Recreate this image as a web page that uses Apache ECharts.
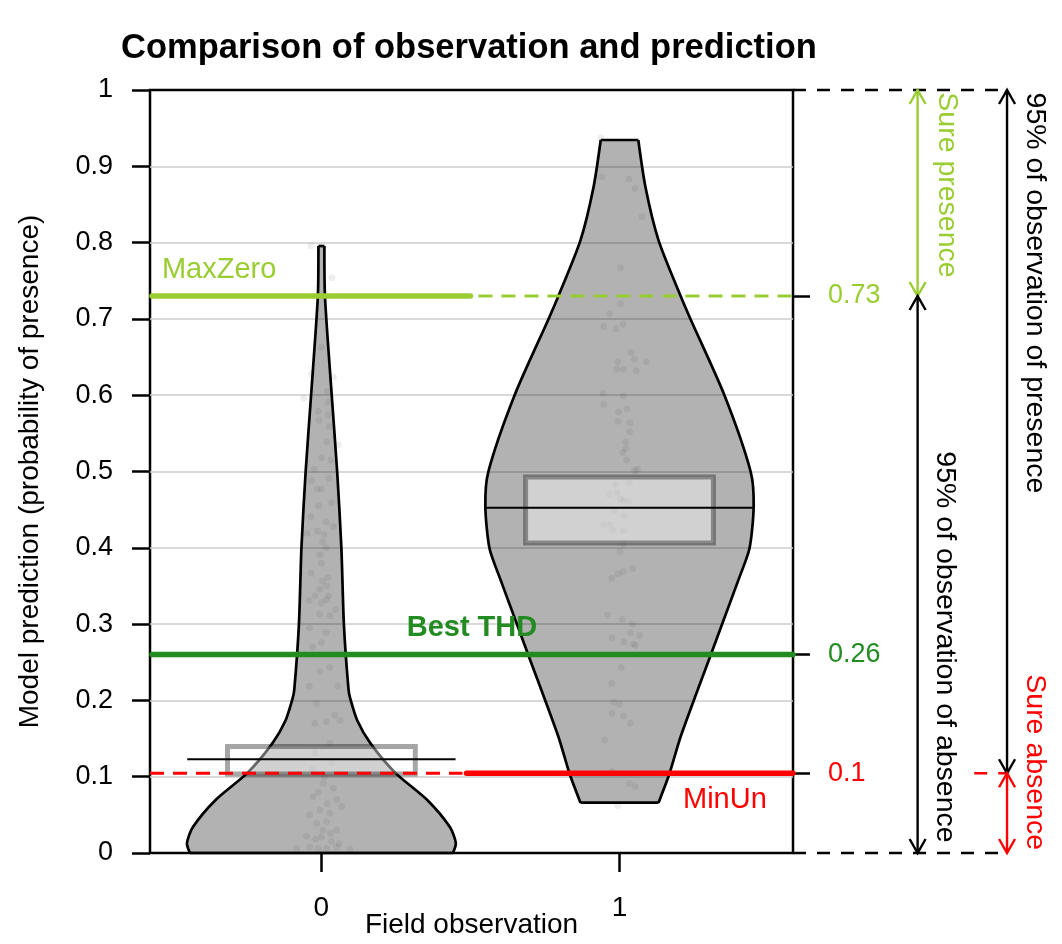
<!DOCTYPE html>
<html>
<head>
<meta charset="utf-8">
<script src="https://cdn.jsdelivr.net/npm/echarts@6/dist/echarts.min.js"></script>
<style>
html, body { margin: 0; padding: 0; background: #fff; }
#chart { width: 1062px; height: 944px; }
</style>
</head>
<body>
<div id="chart"></div>
<script>
// groups on the x axis (field observation)
const groups = [0, 1]

// violin outlines: [probability, half width in x units]
const violin0 = [
    [0, 0.441], [0.013, 0.451], [0.034, 0.431], [0.0695, 0.355], [0.105, 0.248],
    [0.144, 0.164], [0.174, 0.120], [0.202, 0.097], [0.214, 0.091], [0.299, 0.0755],
    [0.400, 0.067], [0.499, 0.053], [0.598, 0.035], [0.729, 0.012], [0.7955, 0.010]
]
const violin1 = [
    [0.066, 0.131], [0.1045, 0.168], [0.1524, 0.205], [0.2586, 0.305], [0.358, 0.399],
    [0.399, 0.436], [0.4539, 0.450], [0.4997, 0.440], [0.5999, 0.352], [0.6999, 0.238],
    [0.730, 0.205], [0.803, 0.131], [0.873, 0.087], [0.9345, 0.063]
]

// box (q1, q3) and median per group
const boxLow = [0.1035, 0.4063]
const boxHigh = [0.1396, 0.4928]
const medians = [0.1228, 0.4526]

// thresholds
const thresholdNames = ['MaxZero', 'Best THD', 'MinUn']
const thresholdValues = [0.73, 0.26, 0.1045]
const thresholdTicks = ['0.73', '0.26', '0.1']
const thresholdColors = ['#9ACD32', '#228B22', '#FF0000']

// jittered observations: [offset from group centre, probability]
const jitter0 = [
    [-0.035, 0.796], [0.035, 0.754], [0, 0.663], [-0.033, 0.628], [0.04, 0.624],
    [-0.059, 0.596], [0.02, 0.605], [0.023, 0.591], [-0.011, 0.579], [-0.008, 0.567],
    [0.023, 0.574], [0.026, 0.559], [0.056, 0.535], [0.018, 0.539], [0, 0.518],
    [0.032, 0.515], [-0.024, 0.503], [-0.033, 0.488], [0.025, 0.491], [-0.014, 0.477],
    [0, 0.477], [0.034, 0.459], [-0.009, 0.455], [-0.035, 0.441], [0.016, 0.434],
    [-0.013, 0.422], [-0.048, 0.419], [0.04, 0.428], [0.009, 0.417], [0.004, 0.408],
    [0.015, 0.400], [-0.005, 0.391], [0, 0.380], [-0.035, 0.367], [0.004, 0.356],
    [0.022, 0.361], [0.018, 0.350], [-0.005, 0.346], [-0.021, 0.337], [0.024, 0.337],
    [-0.041, 0.331], [0, 0.328], [0.048, 0.319], [0.017, 0.332], [-0.006, 0.313],
    [0.028, 0.311], [-0.04, 0.295], [0.016, 0.289], [0, 0.276], [-0.03, 0.270],
    [0.028, 0.243], [-0.005, 0.238], [-0.041, 0.219], [0.054, 0.219], [-0.016, 0.196],
    [0.045, 0.181], [-0.022, 0.170], [0.017, 0.172], [0.062, 0.174], [0.028, 0.144],
    [-0.022, 0.131], [0.034, 0.118], [0.006, 0.091], [-0.028, 0.074], [0.051, 0.070],
    [-0.005, 0.056], [0.028, 0.052], [0.068, 0.061], [-0.016, 0.039], [0.017, 0.041],
    [0.051, 0.030], [0, 0.021], [0.034, 0.015], [-0.011, 0.006], [0.017, 0.006],
    [0.051, 0.008], [-0.039, 0.008], [-0.083, 0.006], [0.096, 0.005], [0.010, 0.100],
    [-0.030, 0.110], [0.040, 0.085], [-0.010, 0.080], [0.020, 0.065], [-0.040, 0.050],
    [0.005, 0.030], [-0.020, 0.018], [0.030, 0.026], [-0.050, 0.022], [0.060, 0.012]
]
const jitter1 = [
    [-0.06, 0.886], [0.032, 0.883], [0.052, 0.871], [0.075, 0.834], [-0.063, 0.937],
    [0.003, 0.767], [0.003, 0.720], [-0.033, 0.707], [-0.053, 0.690], [-0.012, 0.687],
    [0.012, 0.693], [0.038, 0.656], [-0.006, 0.644], [0.05, 0.647], [0.09, 0.644],
    [-0.009, 0.634], [0.013, 0.634], [0.056, 0.632], [-0.055, 0.603], [-0.053, 0.588],
    [0.013, 0.599], [-0.003, 0.578], [0.026, 0.582], [-0.005, 0.566], [0.035, 0.564],
    [0.034, 0.552], [0.021, 0.539], [0.021, 0.530], [0.011, 0.525], [0.024, 0.515],
    [0.06, 0.503], [0.05, 0.501], [-0.014, 0.483], [0.033, 0.485], [-0.035, 0.470],
    [-0.009, 0.472], [0.003, 0.464], [0.013, 0.462], [0.03, 0.461], [-0.017, 0.449],
    [0.016, 0.442], [-0.055, 0.430], [-0.033, 0.431], [-0.023, 0.423], [0.013, 0.422],
    [0.012, 0.405], [0.002, 0.395], [0.044, 0.373], [0.013, 0.369], [-0.005, 0.366],
    [-0.026, 0.360], [-0.04, 0.312], [0.009, 0.306], [0.043, 0.300], [0.037, 0.289],
    [0.068, 0.285], [-0.025, 0.282], [0.015, 0.277], [0.046, 0.274], [0.053, 0.272],
    [0.006, 0.243], [-0.026, 0.222], [-0.02, 0.198], [0, 0.195], [-0.025, 0.183],
    [0.014, 0.180], [0.036, 0.170], [-0.05, 0.148], [0.033, 0.091], [0.052, 0.087],
    [-0.006, 0.062], [-0.026, 0.107]
]

const FONT = '"Liberation Sans", Arial, Helvetica, sans-serif'
const X_MIN = -0.575, X_MAX = 1.582
const profiles = [violin0, violin1]

// position of a threshold value in the arrays (tick values may arrive as strings)
function thresholdIndex(v) {
    return thresholdValues.findIndex(t => Math.abs(t - Number(v)) < 1e-9)
}

var chart = echarts.init(document.getElementById('chart'), null, {renderer: 'canvas'})

var points = []
jitter0.forEach(p => points.push([groups[0] + p[0], p[1]]))
jitter1.forEach(p => points.push([groups[1] + p[0], p[1]]))

var option = {
    animation: false,
    textStyle: {fontFamily: FONT},
    title: {
        text: 'Comparison of observation and prediction',
        left: 121,
        top: 31,
        padding: 0,
        textStyle: {fontSize: 34.5, fontWeight: 'bold', color: '#000', fontFamily: FONT}
    },
    grid: {
        left: 150, right: 269, top: 90, bottom: 91,
        outerBoundsMode: 'none',
        containLabel: false,
        show: true, borderColor: '#000', borderWidth: 2.5
    },
    xAxis: {
        type: 'value',
        min: X_MIN, max: X_MAX,
        name: 'Field observation',
        nameLocation: 'middle',
        nameGap: 58,
        nameMoveOverlap: false,
        nameTextStyle: {fontSize: 28, color: '#000', fontFamily: FONT},
        axisLine: {show: false, onZero: false},
        splitLine: {show: false},
        axisTick: {show: true, customValues: groups, length: 19, lineStyle: {color: '#000', width: 2.5}},
        axisLabel: {customValues: groups, fontSize: 28, color: '#000', margin: 41, fontFamily: FONT}
    },
    yAxis: [{
        type: 'value',
        min: 0, max: 1, interval: 0.1,
        name: 'Model prediction (probability of presence)',
        nameLocation: 'middle',
        nameRotate: 90,
        nameGap: 106,
        nameMoveOverlap: false,
        nameTextStyle: {fontSize: 28, color: '#000', fontFamily: FONT},
        axisLine: {show: false, onZero: false},
        axisTick: {show: true, length: 18, lineStyle: {color: '#000', width: 2.5}},
        axisLabel: {fontSize: 27, color: '#000', margin: 37, fontFamily: FONT},
        splitLine: {show: true, showMinLine: false, showMaxLine: false, lineStyle: {color: '#cccccc', width: 1.5}}
    }, {
        type: 'value',
        position: 'right',
        min: 0, max: 1,
        axisLine: {show: false, onZero: false},
        splitLine: {show: false},
        axisTick: {show: true, customValues: thresholdValues, length: 17, lineStyle: {color: '#000', width: 2.5}},
        axisLabel: {
            customValues: thresholdValues,
            fontSize: 27, margin: 35, fontFamily: FONT,
            formatter: v => thresholdTicks[thresholdIndex(v)],
            color: v => thresholdColors[thresholdIndex(v)]
        }
    }],
    series: [
        {
            // violins: fill, then smoothed sides and flat ends
            type: 'custom',
            z: 2,
            data: groups.map(g => [g]),
            renderItem: function (params, api) {
                var g = api.value(0)
                var prof = profiles[params.dataIndex]
                var right = prof.map(p => api.coord([g + p[1], p[0]]))
                var left = prof.map(p => api.coord([g - p[1], p[0]]))
                var outline = {stroke: '#000', lineWidth: 2.7, fill: null}
                var last = prof.length - 1
                return {
                    type: 'group',
                    children: [{
                        type: 'polygon',
                        shape: {points: right.concat(left.slice().reverse())},
                        style: {fill: 'rgba(0,0,0,0.3)', stroke: null}
                    }, {
                        type: 'polyline',
                        shape: {points: right, smooth: 0.25},
                        style: outline
                    }, {
                        type: 'polyline',
                        shape: {points: left, smooth: 0.25},
                        style: outline
                    }, {
                        type: 'line',
                        shape: {x1: left[last][0], y1: left[last][1], x2: right[last][0], y2: right[last][1]},
                        style: outline
                    }, {
                        type: 'line',
                        shape: {x1: left[0][0], y1: left[0][1], x2: right[0][0], y2: right[0][1]},
                        style: outline
                    }]
                }
            }
        },
        {
            type: 'scatter',
            z: 3,
            silent: true,
            symbolSize: 7,
            itemStyle: {color: 'rgba(0,0,0,0.08)'},
            data: points
        },
        {
            // boxes and medians
            type: 'custom',
            z: 4,
            data: groups.map((g, i) => [g, boxLow[i], boxHigh[i], medians[i]]),
            renderItem: function (params, api) {
                var g = api.value(0)
                var a = api.coord([g - 0.315, api.value(2)])
                var b = api.coord([g + 0.315, api.value(1)])
                var m1 = api.coord([g - 0.45, api.value(3)])
                var m2 = api.coord([g + 0.45, api.value(3)])
                return {
                    type: 'group',
                    children: [{
                        type: 'rect',
                        shape: {x: a[0], y: a[1], width: b[0] - a[0], height: b[1] - a[1]},
                        style: {fill: 'rgba(255,255,255,0.4)', stroke: 'rgba(0,0,0,0.35)', lineWidth: 5}
                    }, {
                        type: 'line',
                        shape: {x1: m1[0], y1: m1[1], x2: m2[0], y2: m2[1]},
                        style: {stroke: '#000', lineWidth: 2}
                    }]
                }
            }
        },
        {
            // threshold lines with their names
            type: 'custom',
            z: 5,
            data: thresholdValues.map((v, i) => [i, v]),
            renderItem: function (params, api) {
                var i = params.dataIndex
                var v = api.value(1)
                var color = thresholdColors[i]
                var L = api.coord([X_MIN, v]), M = api.coord([0.5, v]), R = api.coord([X_MAX, v])
                var solid = {stroke: color, lineWidth: 5.5, lineCap: 'round'}
                var dashed = {stroke: color, lineWidth: 3, lineDash: [14, 9]}
                var children = []
                var t
                if (i === 0) {
                    children.push({type: 'line', shape: {x1: L[0] + 2, y1: L[1], x2: M[0], y2: M[1]}, style: solid})
                    children.push({type: 'line', shape: {x1: M[0] + 8, y1: M[1], x2: R[0], y2: R[1]}, style: dashed})
                    t = api.coord([-0.535, 0.764])
                    children.push({type: 'text', x: t[0], y: t[1], style: {text: thresholdNames[i], fill: color, fontSize: 29, fontFamily: FONT, align: 'left', verticalAlign: 'middle'}})
                } else if (i === 1) {
                    children.push({type: 'line', shape: {x1: L[0] + 2, y1: L[1], x2: R[0], y2: R[1]}, style: solid})
                    t = api.coord([0.505, 0.295])
                    children.push({type: 'text', x: t[0], y: t[1], style: {text: thresholdNames[i], fill: color, fontSize: 29, fontWeight: 'bold', fontFamily: FONT, align: 'center', verticalAlign: 'middle'}})
                } else {
                    children.push({type: 'line', shape: {x1: L[0], y1: L[1], x2: M[0] - 8, y2: M[1]}, style: dashed})
                    children.push({type: 'line', shape: {x1: M[0] - 4, y1: M[1], x2: R[0], y2: R[1]}, style: solid})
                    t = api.coord([1.213, 0.0695])
                    children.push({type: 'text', x: t[0], y: t[1], style: {text: thresholdNames[i], fill: color, fontSize: 29, fontFamily: FONT, align: 'left', verticalAlign: 'middle'}})
                }
                return {type: 'group', children: children}
            }
        },
        {
            // side annotations outside the plot
            type: 'custom',
            z: 6,
            clip: false,
            data: [[0]],
            renderItem: function (params, api) {
                var children = []
                var dash = {stroke: '#000', lineWidth: 2.5, lineDash: [13, 11]}
                function hline(x1, x2, y, style) {
                    var a = api.coord([x1, y]), b = api.coord([x2, y])
                    children.push({type: 'line', shape: {x1: a[0], y1: a[1], x2: b[0], y2: b[1]}, style: style})
                }
                function arrow(x, y1, y2, color) {
                    var a = api.coord([x, y1]), b = api.coord([x, y2])
                    var st = {stroke: color, lineWidth: 2.4, fill: null}
                    children.push({type: 'line', shape: {x1: a[0], y1: a[1], x2: b[0], y2: b[1]}, style: st})
                    children.push({type: 'polyline', shape: {points: [[a[0] - 8, a[1] + 14], a, [a[0] + 8, a[1] + 14]]}, style: st})
                    children.push({type: 'polyline', shape: {points: [[b[0] - 8, b[1] - 14], b, [b[0] + 8, b[1] - 14]]}, style: st})
                }
                function vtext(x, y, text, color) {
                    var p = api.coord([x, y])
                    children.push({
                        type: 'text', x: p[0], y: p[1], rotation: -Math.PI / 2,
                        style: {text: text, fill: color, fontSize: 28.5, fontFamily: FONT, align: 'center', verticalAlign: 'middle'}
                    })
                }
                hline(X_MAX, 2.3, 1, dash)
                hline(X_MAX, 2.3, 0, dash)
                hline(2.19, 2.3, thresholdValues[2], {stroke: thresholdColors[2], lineWidth: 2.5, lineDash: [13, 11]})

                arrow(2.0, 1, thresholdValues[0], thresholdColors[0])
                arrow(2.0, thresholdValues[0], 0, '#000')
                arrow(2.3, 1, thresholdValues[2], '#000')
                arrow(2.3, thresholdValues[2], 0, thresholdColors[2])

                vtext(2.099, 0.8755, 'Sure presence', thresholdColors[0])
                vtext(2.093, 0.27, '95% of observation of absence', '#000')
                vtext(2.394, 0.734, '95% of observation of presence', '#000')
                vtext(2.394, 0.119, 'Sure absence', thresholdColors[2])
                return {type: 'group', children: children}
            }
        }
    ]
}

chart.setOption(option)
</script>
</body>
</html>
